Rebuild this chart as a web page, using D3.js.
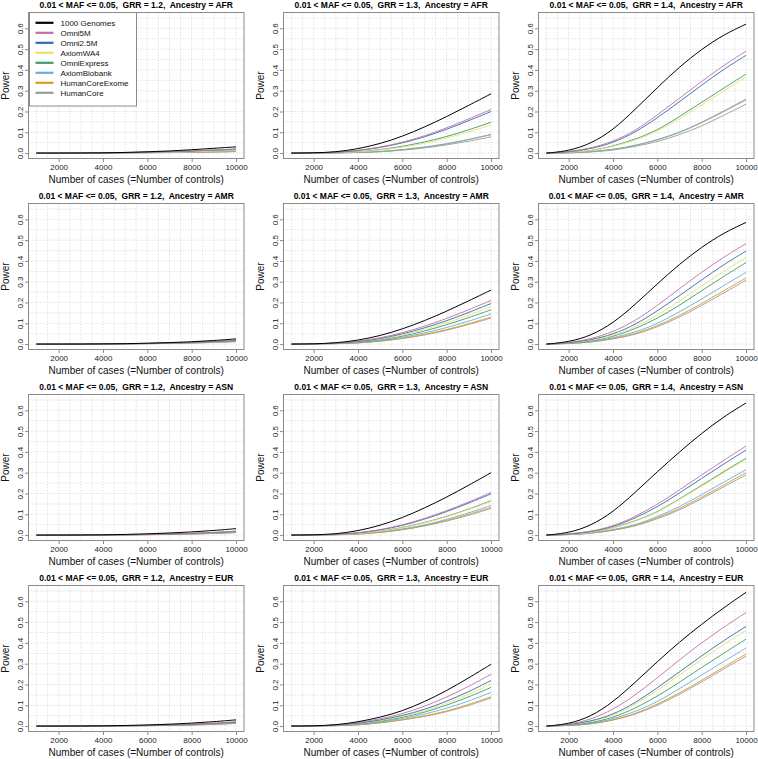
<!DOCTYPE html>
<html><head><meta charset="utf-8">
<script src="https://cdn.jsdelivr.net/npm/d3@7"></script>
<style>
body{margin:0;background:#fff}
svg{display:block;font-family:"Liberation Sans",Arial,Helvetica,sans-serif}
</style>
</head><body>
<svg id="chart" width="758" height="759"></svg>
<script>
// ---------------- data ----------------
const sampleSizes = [1000,2000,3000,4000,5000,6000,7000,8000,9000,10000];
const arrayNames = ["1000 Genomes","Omni5M","Omni2.5M","AxiomWA4","OmniExpress","AxiomBiobank","HumanCoreExome","HumanCore"];
const lineColors = ["#000000","#C26FA3","#2F6CB0","#EDE169","#3E9A6A","#63AEE2","#DB9A1E","#9A9A9A"];
const ancestries = ["AFR","AMR","ASN","EUR"];
const grrValues = ["1.2","1.3","1.4"];
const xTicks = [2000,4000,6000,8000,10000];
const yTicks = [0,0.1,0.2,0.3,0.4,0.5,0.6];

// rows follow arrayNames order
const power_AFR_12 = [
 [0,0,0.0005,0.001,0.003,0.006,0.010,0.016,0.023,0.030],
 [0,0,0,0.001,0.003,0.005,0.007,0.010,0.015,0.020],
 [0,0,0,0.001,0.002,0.004,0.007,0.010,0.014,0.019],
 [0,0,0,0.001,0.002,0.003,0.004,0.006,0.009,0.012],
 [0,0,0,0.001,0.002,0.003,0.005,0.007,0.010,0.013],
 [0,0,0,0,0.001,0.002,0.003,0.004,0.006,0.008],
 [0,0,0,0,0.001,0.002,0.003,0.004,0.006,0.008],
 [0,0,0,0,0.001,0.002,0.002,0.004,0.005,0.007]];
const power_AFR_13 = [
 [0,0.001,0.005,0.020,0.045,0.080,0.125,0.175,0.230,0.285],
 [0,0.001,0.003,0.012,0.028,0.051,0.082,0.121,0.164,0.210],
 [0,0.001,0.003,0.011,0.026,0.048,0.077,0.114,0.156,0.200],
 [0,0,0.002,0.005,0.014,0.028,0.046,0.072,0.102,0.135],
 [0,0,0.002,0.005,0.016,0.032,0.053,0.079,0.112,0.148],
 [0,0,0.001,0.003,0.007,0.016,0.029,0.044,0.066,0.090],
 [0,0,0.001,0.003,0.007,0.015,0.028,0.043,0.065,0.088],
 [0,0,0.001,0.003,0.005,0.014,0.024,0.039,0.057,0.078]];
const power_AFR_14 = [
 [0,0.010,0.045,0.110,0.210,0.315,0.415,0.500,0.570,0.620],
 [0,0.006,0.023,0.055,0.106,0.183,0.264,0.345,0.423,0.490],
 [0,0.005,0.020,0.049,0.099,0.169,0.247,0.327,0.404,0.470],
 [0,0.003,0.010,0.031,0.061,0.104,0.165,0.231,0.299,0.365],
 [0,0.003,0.010,0.033,0.066,0.109,0.176,0.244,0.313,0.380],
 [0,0.001,0.006,0.017,0.036,0.064,0.099,0.148,0.203,0.260],
 [0,0.001,0.006,0.016,0.035,0.062,0.097,0.145,0.199,0.255],
 [0,0,0.005,0.013,0.032,0.054,0.088,0.129,0.182,0.235]];
const power_AMR_12 = [
 [0,0,0,0.001,0.002,0.004,0.007,0.011,0.017,0.025],
 [0,0,0,0.001,0.002,0.003,0.005,0.008,0.013,0.019],
 [0,0,0,0.001,0.002,0.003,0.005,0.008,0.012,0.018],
 [0,0,0,0.001,0.002,0.003,0.005,0.007,0.011,0.017],
 [0,0,0,0.001,0.001,0.003,0.005,0.007,0.011,0.016],
 [0,0,0,0.001,0.001,0.002,0.004,0.006,0.009,0.014],
 [0,0,0,0,0.001,0.002,0.003,0.005,0.008,0.012],
 [0,0,0,0,0.001,0.002,0.003,0.005,0.008,0.012]];
const power_AMR_13 = [
 [0,0.001,0.005,0.018,0.040,0.072,0.112,0.158,0.208,0.260],
 [0,0.001,0.004,0.013,0.029,0.054,0.085,0.123,0.165,0.210],
 [0,0.001,0.004,0.011,0.026,0.048,0.077,0.112,0.152,0.195],
 [0,0.001,0.003,0.010,0.023,0.042,0.069,0.102,0.139,0.180],
 [0,0.001,0.003,0.008,0.020,0.037,0.062,0.093,0.127,0.165],
 [0,0.001,0.002,0.006,0.016,0.032,0.053,0.079,0.110,0.145],
 [0,0,0.002,0.005,0.014,0.028,0.046,0.069,0.098,0.130],
 [0,0,0.002,0.005,0.013,0.026,0.043,0.066,0.094,0.125]];
const power_AMR_14 = [
 [0,0.010,0.040,0.100,0.190,0.290,0.385,0.467,0.535,0.585],
 [0,0.006,0.024,0.058,0.111,0.185,0.267,0.346,0.419,0.483],
 [0,0.006,0.020,0.046,0.093,0.159,0.233,0.309,0.383,0.447],
 [0,0.005,0.016,0.039,0.081,0.138,0.207,0.280,0.351,0.416],
 [0,0.004,0.014,0.035,0.073,0.123,0.186,0.257,0.326,0.392],
 [0,0.003,0.010,0.029,0.057,0.097,0.155,0.216,0.282,0.345],
 [0,0.003,0.009,0.026,0.049,0.087,0.137,0.194,0.257,0.318],
 [0,0.002,0.009,0.024,0.045,0.082,0.129,0.185,0.246,0.307]];
const power_ASN_12 = [
 [0,0,0.0005,0.001,0.003,0.006,0.010,0.015,0.022,0.031],
 [0,0,0,0.001,0.002,0.003,0.005,0.008,0.013,0.019],
 [0,0,0,0.001,0.002,0.003,0.005,0.008,0.012,0.018],
 [0,0,0,0.001,0.001,0.003,0.005,0.007,0.011,0.016],
 [0,0,0,0.001,0.001,0.003,0.005,0.007,0.011,0.016],
 [0,0,0,0,0.001,0.002,0.004,0.006,0.009,0.013],
 [0,0,0,0,0.001,0.002,0.003,0.005,0.008,0.012],
 [0,0,0,0,0.001,0.002,0.003,0.005,0.008,0.012]];
const power_ASN_13 = [
 [0,0.001,0.005,0.020,0.046,0.083,0.130,0.182,0.240,0.300],
 [0,0.001,0.003,0.010,0.025,0.048,0.079,0.117,0.159,0.205],
 [0,0.001,0.003,0.010,0.024,0.045,0.076,0.112,0.154,0.198],
 [0,0,0.002,0.006,0.017,0.035,0.058,0.087,0.123,0.162],
 [0,0.001,0.002,0.006,0.018,0.036,0.060,0.089,0.125,0.165],
 [0,0,0.002,0.005,0.014,0.029,0.048,0.075,0.107,0.142],
 [0,0,0.002,0.004,0.013,0.026,0.045,0.070,0.100,0.133],
 [0,0,0.001,0.004,0.012,0.025,0.043,0.067,0.095,0.128]];
const power_ASN_14 = [
 [0,0.010,0.045,0.110,0.205,0.305,0.400,0.490,0.570,0.635],
 [0,0.005,0.017,0.042,0.088,0.147,0.217,0.290,0.360,0.428],
 [0,0.004,0.015,0.039,0.081,0.135,0.202,0.273,0.342,0.409],
 [0,0.003,0.010,0.033,0.065,0.108,0.171,0.235,0.301,0.364],
 [0,0.003,0.010,0.034,0.067,0.110,0.174,0.239,0.306,0.369],
 [0,0.002,0.008,0.026,0.048,0.088,0.136,0.194,0.255,0.315],
 [0,0.002,0.008,0.023,0.044,0.082,0.126,0.182,0.241,0.300],
 [0,0.002,0.008,0.022,0.042,0.078,0.119,0.175,0.232,0.290]];
const power_EUR_12 = [
 [0,0,0.0005,0.001,0.003,0.005,0.009,0.014,0.021,0.030],
 [0,0,0,0.001,0.002,0.004,0.006,0.009,0.014,0.021],
 [0,0,0,0.001,0.002,0.003,0.005,0.008,0.013,0.019],
 [0,0,0,0.001,0.002,0.003,0.005,0.008,0.012,0.018],
 [0,0,0,0.001,0.002,0.003,0.005,0.007,0.011,0.017],
 [0,0,0,0.001,0.001,0.002,0.004,0.006,0.010,0.015],
 [0,0,0,0,0.001,0.002,0.003,0.005,0.008,0.013],
 [0,0,0,0,0.001,0.002,0.003,0.005,0.008,0.013]];
const power_EUR_13 = [
 [0,0.001,0.005,0.020,0.042,0.072,0.117,0.170,0.232,0.297],
 [0,0.001,0.004,0.016,0.034,0.059,0.094,0.139,0.191,0.249],
 [0,0.001,0.004,0.013,0.029,0.050,0.079,0.119,0.165,0.219],
 [0,0.001,0.003,0.011,0.026,0.045,0.071,0.109,0.152,0.202],
 [0,0.001,0.003,0.010,0.023,0.041,0.066,0.100,0.140,0.186],
 [0,0.001,0.002,0.007,0.019,0.036,0.057,0.085,0.120,0.162],
 [0,0,0.002,0.005,0.016,0.030,0.049,0.071,0.104,0.141],
 [0,0,0.002,0.005,0.015,0.029,0.046,0.068,0.099,0.135]];
const power_EUR_14 = [
 [0,0.010,0.045,0.115,0.210,0.310,0.405,0.490,0.570,0.643],
 [0,0.007,0.031,0.079,0.148,0.232,0.319,0.401,0.476,0.546],
 [0,0.006,0.023,0.055,0.111,0.184,0.261,0.338,0.412,0.479],
 [0,0.005,0.020,0.049,0.103,0.171,0.246,0.321,0.394,0.460],
 [0,0.004,0.015,0.040,0.085,0.143,0.211,0.282,0.351,0.418],
 [0,0.003,0.010,0.034,0.069,0.116,0.180,0.245,0.312,0.375],
 [0,0.003,0.009,0.029,0.058,0.105,0.159,0.220,0.284,0.346],
 [0,0.003,0.009,0.028,0.055,0.099,0.152,0.212,0.275,0.336]];

const panelTable = {
  AFR: [power_AFR_12, power_AFR_13, power_AFR_14],
  AMR: [power_AMR_12, power_AMR_13, power_AMR_14],
  ASN: [power_ASN_12, power_ASN_13, power_ASN_14],
  EUR: [power_EUR_12, power_EUR_13, power_EUR_14]
};

// ---------------- layout ----------------
const svg = d3.select("#chart");
const colLeft = [28.5, 283.5, 538.5];
const rowTop = [12.5, 203.5, 394.5, 585.5];
const boxW = 215.5, boxH = 146;
const boxColor = "#8a8a8a";

ancestries.forEach((anc, r) => {
  grrValues.forEach((grr, c) => {
    const L = colLeft[c], T = rowTop[r];
    const x = d3.scaleLinear().domain([640, 10360]).range([L, L + boxW]);
    const y = d3.scaleLinear().domain([-0.026, 0.676]).range([T + boxH, T]);
    const g = svg.append("g");

    // grid
    g.append("g").selectAll("line").data(d3.range(1000, 10001, 500)).join("line")
      .attr("x1", d => x(d)).attr("x2", d => x(d)).attr("y1", T).attr("y2", T + boxH)
      .attr("stroke", "#d4d4d4").attr("stroke-width", 0.8).attr("stroke-dasharray", "1.2,1.6");
    g.append("g").selectAll("line").data(d3.range(0, 14).map(i => i * 0.05)).join("line")
      .attr("x1", L).attr("x2", L + boxW).attr("y1", d => y(d)).attr("y2", d => y(d))
      .attr("stroke", "#d4d4d4").attr("stroke-width", 0.8).attr("stroke-dasharray", "1.2,1.6");

    // lines
    const series = panelTable[anc][c];
    const line = d3.line().x((d, i) => x(sampleSizes[i])).y(d => y(d)).curve(d3.curveBasis);
    const order = [7, 6, 5, 4, 3, 2, 1, 0];
    order.forEach(k => {
      g.append("path").attr("d", line(series[k])).attr("fill", "none")
        .attr("stroke", lineColors[k]).attr("stroke-width", 1)
        .attr("stroke-opacity", k === 0 ? 1 : 0.9);
    });

    // box
    g.append("rect").attr("x", L).attr("y", T).attr("width", boxW).attr("height", boxH)
      .attr("fill", "none").attr("stroke", boxColor).attr("stroke-width", 1);

    // x axis
    const xa = g.append("g").attr("transform", `translate(0,${T + boxH})`)
      .call(d3.axisBottom(x).tickValues(xTicks).tickFormat(d3.format("d")).tickSize(3.5).tickPadding(2));
    xa.select(".domain").remove();
    xa.selectAll("line").attr("stroke", boxColor);
    xa.selectAll("text").attr("font-size", "8px").attr("fill", "#222").attr("font-family", null);

    // y axis
    const ya = g.append("g").attr("transform", `translate(${L},0)`)
      .call(d3.axisLeft(y).tickValues(yTicks).tickFormat(d3.format(".1f")).tickSize(3.5));
    ya.select(".domain").remove();
    ya.selectAll("line").attr("stroke", boxColor);
    ya.selectAll("text").attr("font-size", "8px").attr("fill", "#222").attr("font-family", null)
      .attr("transform", "rotate(-90)").attr("x", 0).attr("y", -5.5).attr("dy", 0)
      .attr("text-anchor", "middle");

    // titles
    g.append("text").attr("x", L + boxW / 2).attr("y", T - 4.5).attr("text-anchor", "middle")
      .attr("font-size", "8.5px").attr("font-weight", "bold").style("white-space", "pre")
      .text(`0.01 < MAF <= 0.05,  GRR = ${grr},  Ancestry = ${anc}`);
    g.append("text").attr("x", L + boxW / 2).attr("y", T + boxH + 24.5).attr("text-anchor", "middle")
      .attr("font-size", "10px").attr("fill", "#111").text("Number of cases (=Number of controls)");
    g.append("text").attr("transform", `translate(${L - 20},${T + boxH / 2}) rotate(-90)`)
      .attr("text-anchor", "middle").attr("font-size", "10px").attr("fill", "#111").text("Power");

    // legend
    if (r === 0 && c === 0) {
      const lg = g.append("g");
      lg.append("rect").attr("x", L + 1).attr("y", T).attr("width", 107).attr("height", 93.5)
        .attr("fill", "#fff").attr("stroke", boxColor).attr("stroke-width", 1);
      arrayNames.forEach((name, k) => {
        const cy = T + 10.3 + k * 10;
        lg.append("line").attr("x1", L + 7).attr("x2", L + 25).attr("y1", cy).attr("y2", cy)
          .attr("stroke", lineColors[k]).attr("stroke-width", 2.2);
        lg.append("text").attr("x", L + 32).attr("y", cy + 2.9).attr("font-size", "8px")
          .attr("fill", "#111").text(name);
      });
    }
  });
});
</script>
</body></html>
